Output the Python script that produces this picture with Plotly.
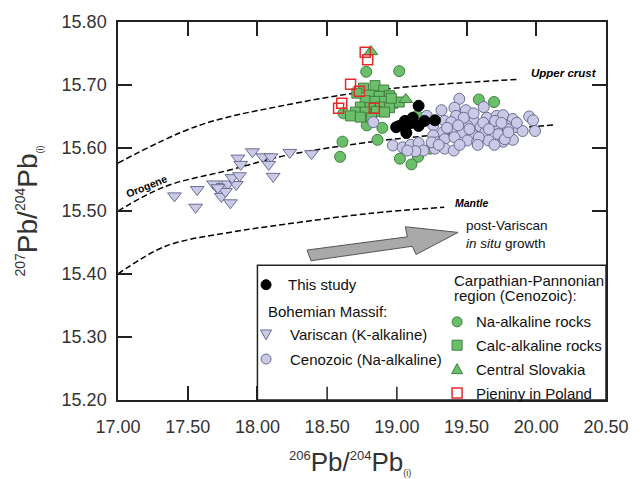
import plotly.graph_objects as go

# ---------------- data ----------------
# Bohemian Massif – Variscan (K-alkaline)
var_x = [17.405, 17.568, 17.557, 17.685, 17.725, 17.755, 17.788, 17.741, 17.771, 17.806,
         17.848, 17.818, 17.871, 17.860, 17.880, 17.964, 18.039, 18.097, 18.081, 18.113,
         18.232, 18.388, 17.717]
var_y = [15.524, 15.534, 15.506, 15.543, 15.533, 15.539, 15.543, 15.523, 15.531, 15.513,
         15.542, 15.553, 15.556, 15.584, 15.574, 15.594, 15.586, 15.586, 15.574, 15.555,
         15.593, 15.591, 15.537]

# Bohemian Massif – Cenozoic (Na-alkaline)
cen_x = [19.448, 19.320, 19.413, 19.495, 19.623, 19.425, 19.215, 19.343, 19.390, 18.831,
         19.552, 19.646, 19.716, 19.763, 19.832, 19.506, 19.600, 19.693, 19.786, 19.856,
         19.261, 19.331, 19.413, 19.471, 19.541, 19.634, 19.728, 19.809, 19.261, 18.971,
         19.041, 19.099, 19.156, 19.191, 19.133, 19.075, 19.285, 19.343, 19.413, 19.273,
         19.343, 19.408, 19.506, 19.576, 19.657, 19.763, 19.832, 19.949, 19.977, 19.902,
         19.991, 19.704, 19.797, 19.774, 19.588, 19.250, 19.550, 19.480, 19.620, 19.750,
         19.860, 19.520, 19.660, 19.440, 19.580, 19.700, 19.800, 19.360, 19.300, 19.450]
cen_y = [15.678, 15.660, 15.664, 15.660, 15.665, 15.651, 15.651, 15.643, 15.641, 15.641,
         15.643, 15.648, 15.651, 15.652, 15.646, 15.635, 15.634, 15.636, 15.635, 15.633,
         15.636, 15.625, 15.627, 15.625, 15.622, 15.625, 15.622, 15.617, 15.620, 15.604,
         15.601, 15.605, 15.608, 15.596, 15.595, 15.596, 15.609, 15.614, 15.617, 15.599,
         15.599, 15.596, 15.612, 15.610, 15.612, 15.610, 15.613, 15.650, 15.644, 15.627,
         15.627, 15.643, 15.630, 15.614, 15.617, 15.609, 15.655, 15.648, 15.640, 15.640,
         15.640, 15.630, 15.630, 15.636, 15.605, 15.605, 15.625, 15.632, 15.605, 15.605]

# Carpathian-Pannonian – Na-alkaline rocks
na_x = [18.780, 19.017, 19.588, 19.697, 18.617, 18.784, 18.896, 18.610, 18.861, 18.593,
        19.022, 19.152, 19.105, 19.239, 19.145, 19.425]
na_y = [15.721, 15.722, 15.677, 15.673, 15.655, 15.636, 15.632, 15.610, 15.613, 15.586,
        15.583, 15.586, 15.574, 15.599, 15.651, 15.641]

# Carpathian-Pannonian – Calc-alkaline rocks
ca_x = [18.761, 18.843, 18.906, 18.803, 18.873, 18.947, 18.773, 18.843, 18.912, 18.971,
        19.017, 18.738, 18.808, 18.882, 18.947, 18.703, 18.773, 18.854, 18.912, 18.668,
        18.738, 18.819, 18.713, 18.960]
ca_y = [15.695, 15.699, 15.692, 15.684, 15.682, 15.683, 15.675, 15.674, 15.674, 15.671,
        15.673, 15.665, 15.664, 15.665, 15.664, 15.657, 15.657, 15.658, 15.657, 15.651,
        15.649, 15.648, 15.687, 15.679]

# Central Slovakia
cs_x = [18.814, 19.064]
cs_y = [15.753, 15.677]

# Pieniny in Poland
pp_x = [18.773, 18.791, 18.668, 18.731, 18.605, 18.582, 18.838]
pp_y = [15.752, 15.740, 15.701, 15.690, 15.671, 15.663, 15.663]

# This study
ts_x = [19.156, 19.114, 19.058, 19.017, 19.093, 19.156, 19.199, 19.273, 19.068, 18.995]
ts_y = [15.667, 15.648, 15.643, 15.635, 15.639, 15.635, 15.643, 15.644, 15.624, 15.633]

# Pb growth curves
uc_x = [17.00, 17.57, 18.20, 18.90, 19.88]
uc_y = [15.576, 15.635, 15.668, 15.693, 15.709]
or_x = [17.00, 17.34, 17.80, 18.22, 18.90, 19.46, 20.14]
or_y = [15.500, 15.539, 15.565, 15.589, 15.612, 15.624, 15.637]
ma_x = [17.00, 17.34, 17.80, 18.20, 18.80, 19.34]
ma_y = [15.400, 15.444, 15.466, 15.479, 15.496, 15.506]

x_ticks = [17.0, 17.5, 18.0, 18.5, 19.0, 19.5, 20.0, 20.5]
x_ticktext = ["17.00", "17.50", "18.00", "18.50", "19.00", "19.50", "20.00", "20.50"]
y_ticks = [15.2, 15.3, 15.4, 15.5, 15.6, 15.7, 15.8]
y_ticktext = ["15.20", "15.30", "15.40", "15.50", "15.60", "15.70", "15.80"]

# legend entries
leg_labels = ["This study", "Variscan (K-alkaline)", "Cenozoic (Na-alkaline)",
              "Na-alkaline rocks", "Calc-alkaline rocks", "Central Slovakia", "Pieniny in Poland"]
leg_kind = ["circle", "tri-down", "circle", "circle", "square", "tri-up", "square-open"]

# ---------------- styles ----------------
FONT = "Liberation Sans, Arial, sans-serif"
GREEN = "#6cbf6a"
GREEN_L = "#3f7f3f"
LAV = "#cacae7"
LAV_L = "#6c6c94"
RED = "#e32b2b"

fig = go.Figure()

def curve(x, y):
    fig.add_trace(go.Scatter(x=x, y=y, mode="lines", line_shape="spline",
                             line=dict(color="black", width=1.5, dash="6px,3px"),
                             showlegend=False, hoverinfo="skip"))

curve(uc_x, uc_y)
curve(or_x, or_y)
curve(ma_x, ma_y)

def pts(x, y, symbol, fill, line, lw=1, size=11):
    fig.add_trace(go.Scatter(x=x, y=y, mode="markers", showlegend=False,
                             marker=dict(symbol=symbol, size=size, color=fill,
                                         line=dict(color=line, width=lw))))

pts(var_x, var_y, "triangle-down", LAV, LAV_L, size=12)
pts(na_x, na_y, "circle", GREEN, GREEN_L)
pts(ca_x, ca_y, "square", GREEN, GREEN_L, size=10)
pts(cs_x, cs_y, "triangle-up", GREEN, GREEN_L, size=12)
pts(cen_x, cen_y, "circle", LAV, LAV_L)
pts(ts_x, ts_y, "circle", "black", "black")
pts(pp_x, pp_y, "square-open", RED, RED, lw=1.5, size=10)

# legend box
fig.add_shape(type="rect", xref="x", yref="y", x0=18.0, x1=20.5, y0=15.2, y1=15.414,
              fillcolor="white", line=dict(color="#222", width=1.5), layer="above")
# the two ticks visible inside the legend box in the original
for tx in [18.5, 19.0]:
    fig.add_shape(type="line", xref="x", yref="y", x0=tx, x1=tx, y0=15.2, y1=15.221,
                  line=dict(color="#222", width=1.5), layer="above")

# arrow
arrow_path = ("M 18.356,15.438 L 19.075,15.459 L 19.061,15.475 L 19.439,15.466 "
              "L 19.138,15.431 L 19.110,15.444 L 18.384,15.421 Z")
fig.add_shape(type="path", xref="x", yref="y", path=arrow_path,
              fillcolor="#a9a9a9", line=dict(color="#555", width=1), layer="above")

# legend markers (pixel-sized shapes above the legend box)
leg_mx = [18.062, 18.062, 18.062, 19.432, 19.432, 19.432, 19.432]
leg_my = [15.383, 15.304, 15.265, 15.324, 15.287, 15.249, 15.211]
leg_fill = ["black", LAV, LAV, GREEN, GREEN, GREEN, "rgba(0,0,0,0)"]
leg_line = ["black", LAV_L, LAV_L, GREEN_L, GREEN_L, GREEN_L, RED]
leg_tx = [18.202, 18.216, 18.216, 19.551, 19.551, 19.551, 19.551]

for lx, ly, kind, fc, lc in zip(leg_mx, leg_my, leg_kind, leg_fill, leg_line):
    common = dict(xref="x", yref="y", xsizemode="pixel", ysizemode="pixel",
                  xanchor=lx, yanchor=ly, fillcolor=fc, layer="above",
                  line=dict(color=lc, width=1.5 if kind == "square-open" else 1))
    if kind == "circle":
        fig.add_shape(type="circle", x0=-5, x1=5, y0=-5, y1=5, **common)
    elif kind in ("square", "square-open"):
        fig.add_shape(type="rect", x0=-5, x1=5, y0=-5, y1=5, **common)
    elif kind == "tri-down":
        fig.add_shape(type="path", path="M -5.5,4.5 L 5.5,4.5 L 0,-5.5 Z", **common)
    else:
        fig.add_shape(type="path", path="M -5.5,-4.5 L 5.5,-4.5 L 0,5.5 Z", **common)

LEGF = dict(size=15, color="#111", family=FONT)
annos = []
for tx, ly, lab in zip(leg_tx, leg_my, leg_labels):
    annos.append(dict(x=tx, y=ly, text=lab, xanchor="left", yanchor="middle",
                      showarrow=False, font=LEGF))

xtitle = ('<sup><span style="font-size:13px">206</span></sup>Pb/'
          '<sup><span style="font-size:13px">204</span></sup>Pb'
          '<sub><span style="font-size:9px">(i)</span></sub>')
ytitle = ('<sup><span style="font-size:14px">207</span></sup>Pb/'
          '<sup><span style="font-size:14px">204</span></sup>Pb'
          '<sub><span style="font-size:9px">(i)</span></sub>')

annos += [
    dict(x=18.062, y=15.340, text="Bohemian Massif:", xanchor="left", yanchor="middle",
         showarrow=False, font=LEGF),
    dict(x=19.397, y=15.389, text="Carpathian-Pannonian", xanchor="left",
         yanchor="middle", showarrow=False, font=LEGF),
    dict(x=19.397, y=15.366, text="region (Cenozoic):", xanchor="left",
         yanchor="middle", showarrow=False, font=LEGF),
    dict(x=19.95, y=15.719, text="<b><i>Upper crust</i></b>", xanchor="left", yanchor="middle",
         showarrow=False, font=dict(size=11.5, color="black", family=FONT)),
    dict(x=17.203, y=15.539, text="<b>Orogene</b>", textangle=-22, xanchor="center",
         yanchor="middle", showarrow=False, font=dict(size=10.5, color="black", family=FONT)),
    dict(x=19.40, y=15.513, text="<b><i>Mantle</i></b>", xanchor="left", yanchor="middle",
         showarrow=False, font=dict(size=10.5, color="black", family=FONT)),
    dict(x=19.481, y=15.462, text="post-Variscan<br><i>in situ</i> growth", xanchor="left",
         yanchor="middle", align="left", showarrow=False,
         font=dict(size=13.5, color="#111", family=FONT)),
    dict(xref="paper", yref="paper", x=0.475, y=-0.165, text=xtitle, xanchor="center",
         yanchor="middle", showarrow=False, font=dict(size=26, color="#333", family=FONT)),
]

axis_common = dict(showgrid=False, zeroline=False, showline=True, linecolor="#222",
                   linewidth=1.5, mirror="ticks", ticks="inside", ticklen=14, tickwidth=1.5,
                   tickcolor="#222", tickfont=dict(size=18, color="#333", family=FONT),
                   ticklabeloverflow="allow")

fig.update_layout(
    width=641, height=479, autosize=False,
    margin=dict(l=118, r=22, t=14, b=79),
    plot_bgcolor="white", paper_bgcolor="white",
    font=dict(family=FONT),
    xaxis=dict(range=[17.0, 20.5], tickvals=x_ticks, ticktext=x_ticktext,
               ticklabelstandoff=10, **axis_common),
    yaxis=dict(range=[15.2, 15.8], tickvals=y_ticks, ticktext=y_ticktext,
               title=dict(text=ytitle, font=dict(size=28, color="#333", family=FONT), standoff=16),
               ticklabelstandoff=6, **axis_common),
    annotations=annos,
    showlegend=False,
)

fig.write_html("out.html")
